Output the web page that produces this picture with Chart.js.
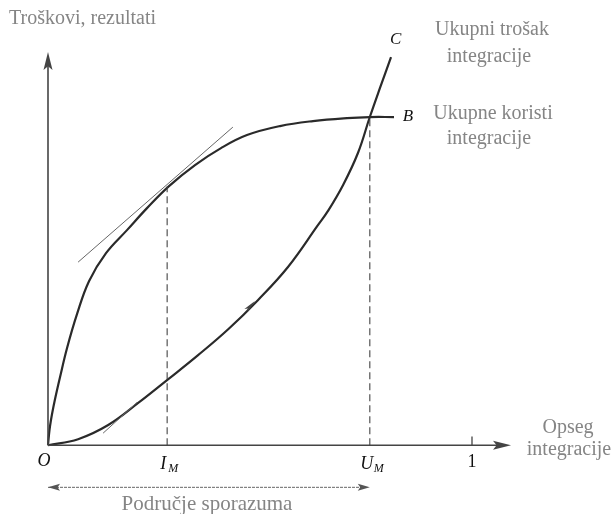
<!DOCTYPE html>
<html>
<head>
<meta charset="utf-8">
<script src="https://cdn.jsdelivr.net/npm/chart.js@4/dist/chart.umd.min.js"></script>
<style>
  body { margin: 0; background: #fff; }
  canvas { display: block; }
</style>
</head>
<body>
<canvas id="grafIntegracija" width="612" height="514"></canvas>
<script>
// krivulja B - ukupne koristi integracije
const koristX = [0, 0.0024, 0.0047, 0.0094, 0.0165, 0.0283, 0.0448, 0.0684, 0.0967, 0.1368, 0.1863, 0.2335, 0.2854, 0.3467, 0.4080, 0.4693, 0.5472, 0.6250, 0.7052, 0.7594, 0.8160]
const koristY = [0, 0.0272, 0.0470, 0.0767, 0.1139, 0.1683, 0.2401, 0.3243, 0.4059, 0.4752, 0.5322, 0.5866, 0.6411, 0.6931, 0.7351, 0.7673, 0.7896, 0.8020, 0.8094, 0.8119, 0.8119]

// krivulja C - ukupni trošak integracije
const trosakX = [0, 0.071, 0.142, 0.212, 0.283, 0.354, 0.425, 0.495, 0.566, 0.637, 0.660, 0.696, 0.731, 0.759, 0.783, 0.809]
const trosakY = [0, 0.015, 0.050, 0.104, 0.163, 0.223, 0.287, 0.359, 0.441, 0.545, 0.579, 0.644, 0.723, 0.812, 0.884, 0.960]

// tangente
const tangentaB = [[0.071, 0.453], [0.436, 0.787]]
const tangentaC = [[0.130, 0.030], [0.210, 0.106]]

// oznake na osi x
const oznakeX = ['O', 'I', 'U', '1']
const pozicijeX = [0, 0.281, 0.759, 1]
const iM = 0.281
const uM = 0.759
const korIM = 0.640
const korUM = 0.812

const krajOsiX = 1.092
const krajOsiY = 0.973
const razinaSporazuma = -0.104

const tocke = (xs, ys) => xs.map((x, i) => ({ x: x, y: ys[i] }))
const par = p => p.map(t => ({ x: t[0], y: t[1] }))

const serif = '"Liberation Serif", "DejaVu Serif", serif'
const siva = '#858585'

function strelica(ctx, x, y, kut, duz, sir) {
    ctx.save()
    ctx.translate(x, y)
    ctx.rotate(kut)
    ctx.beginPath()
    ctx.moveTo(0, 0)
    ctx.lineTo(-duz, -sir / 2)
    ctx.lineTo(-duz * 0.8, 0)
    ctx.lineTo(-duz, sir / 2)
    ctx.closePath()
    ctx.fill()
    ctx.restore()
}

const oznake = {
    id: 'oznake',
    afterDraw(chart) {
        const ctx = chart.ctx
        const sx = chart.scales.x
        const sy = chart.scales.y
        const px = v => sx.getPixelForValue(v)
        const py = v => sy.getPixelForValue(v)

        ctx.save()
        // strelice osi
        ctx.fillStyle = '#444'
        strelica(ctx, px(0), py(krajOsiY), -Math.PI / 2, 18, 9)
        strelica(ctx, px(krajOsiX), py(0), 0, 18, 9)
        // dvostruka strelica podrucja sporazuma
        ctx.fillStyle = '#555'
        strelica(ctx, px(0), py(razinaSporazuma), Math.PI, 12, 7)
        strelica(ctx, px(uM), py(razinaSporazuma), 0, 12, 7)
        // mala strelica na krivulji C
        ctx.fillStyle = '#444'
        strelica(ctx, px(0.488), py(0.357), -0.82, 13, 4.5)

        ctx.textAlign = 'center'
        ctx.textBaseline = 'middle'

        // crni matematicki natpisi
        ctx.fillStyle = '#111'
        ctx.font = 'italic 18px ' + serif
        ctx.fillText(oznakeX[0], px(pozicijeX[0]) - 4, py(0) + 16)
        ctx.fillText(oznakeX[1], px(pozicijeX[1]) - 4, py(0) + 19)
        ctx.fillText(oznakeX[2], px(pozicijeX[2]) - 3, py(0) + 19)
        ctx.font = '18px ' + serif
        ctx.fillText(oznakeX[3], px(pozicijeX[3]), py(0) + 17)
        ctx.font = 'italic 12px ' + serif
        ctx.fillText('M', px(pozicijeX[1]) + 6, py(0) + 24)
        ctx.fillText('M', px(pozicijeX[2]) + 9, py(0) + 24)
        ctx.font = 'italic 17px ' + serif
        ctx.fillText('B', px(0.816) + 14, py(korUM))
        ctx.fillText('C', px(0.820), py(1) - 1)

        // sivi opisni natpisi
        ctx.fillStyle = siva
        ctx.font = '20px ' + serif
        ctx.textAlign = 'left'
        ctx.fillText('Troškovi, rezultati', 9, 19)
        ctx.textAlign = 'center'
        ctx.fillText('Ukupni trošak', 492, 30)
        ctx.fillText('integracije', 489, 57)
        ctx.fillText('Ukupne koristi', 493, 114)
        ctx.fillText('integracije', 489, 139)
        ctx.fillText('Opseg', 568, 428)
        ctx.fillText('integracije', 569, 450)
        ctx.font = '21px ' + serif
        ctx.fillText('Područje sporazuma', 207, 504)
        ctx.restore()
    }
}

const crta = (data, boja, sirina, extra) => Object.assign({
    data: data,
    showLine: true,
    borderColor: boja,
    borderWidth: sirina,
    pointRadius: 0,
    fill: false,
    clip: false
}, extra || {})

new Chart(document.getElementById('grafIntegracija'), {
    type: 'scatter',
    data: {
        datasets: [
            crta([{ x: 0, y: 0 }, { x: krajOsiX - 0.02, y: 0 }], '#444', 1.6),
            crta([{ x: 0, y: 0 }, { x: 0, y: krajOsiY - 0.02 }], '#444', 1.6),
            crta([{ x: 1, y: 0 }, { x: 1, y: 0.022 }], '#444', 1.3),
            crta([{ x: iM, y: 0 }, { x: iM, y: korIM }], '#444', 1.1, { borderDash: [7, 4] }),
            crta([{ x: uM, y: 0 }, { x: uM, y: korUM }], '#444', 1.1, { borderDash: [7, 4] }),
            crta([{ x: 0, y: razinaSporazuma }, { x: uM - 0.02, y: razinaSporazuma }], '#666', 1, { borderDash: [3, 1] }),
            crta(par(tangentaB), '#666', 1),
            crta(par(tangentaC), '#666', 1),
            crta(tocke(koristX, koristY), '#2a2a2a', 2.2, { tension: 0.4 }),
            crta(tocke(trosakX, trosakY), '#2a2a2a', 2.2, { tension: 0.4 })
        ]
    },
    options: {
        responsive: false,
        animation: false,
        layout: { padding: { left: 48, right: 97.6, top: 41, bottom: 0 } },
        scales: {
            x: { type: 'linear', min: 0, max: 1.1, display: false },
            y: { type: 'linear', min: -0.17, max: 1, display: false }
        },
        plugins: {
            legend: { display: false },
            tooltip: { enabled: false }
        }
    },
    plugins: [oznake]
})
</script>
</body>
</html>
